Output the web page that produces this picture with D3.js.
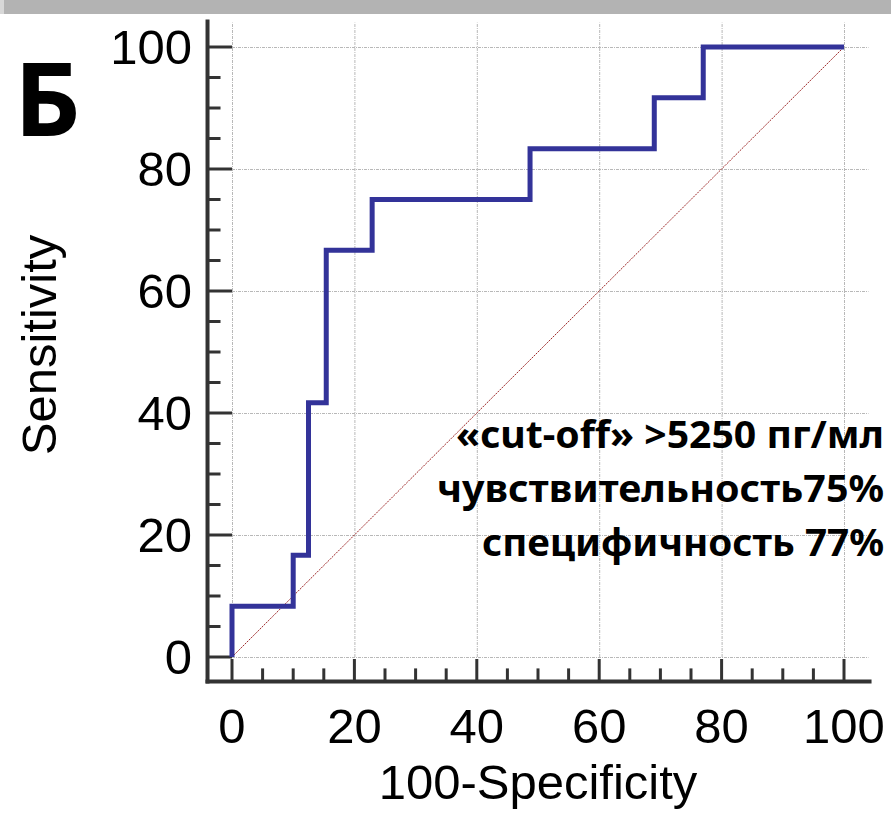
<!DOCTYPE html>
<html>
<head>
<meta charset="utf-8">
<script src="https://cdn.jsdelivr.net/npm/d3@7"></script>
<style>
  body { margin: 0; background: #fff; }
  text { font-family: "Liberation Sans", Arial, sans-serif; }
</style>
</head>
<body>
<svg id="roc" width="891" height="829"></svg>
<script>
// ROC step points (100-specificity, sensitivity)
var fpr  = [0, 10, 12.5, 15.4, 22.9, 48.7, 69, 77, 100]
var sens = [0, 8.33, 16.67, 41.67, 66.67, 75, 83.33, 91.67, 100]

var majorTicks = [0, 20, 40, 60, 80, 100]
var minorTicks = d3.range(0, 101, 5).filter(d => d % 20)

var notes = ['«cut-off» >5250 пг/мл', 'чувствительность75%', 'специфичность 77%']
var noteWidths = [428, 447, 402]
var panelLetter = 'Б'

var svg = d3.select('#roc')

var x = d3.scaleLinear().domain([0, 100]).range([232, 844])
var y = d3.scaleLinear().domain([0, 100]).range([657, 47])

// grey strip at the top
svg.append('rect').attr('x', 0).attr('y', 0).attr('width', 891).attr('height', 14).attr('fill', '#b3b3b3')
svg.append('rect').attr('x', 0).attr('y', 0).attr('width', 4).attr('height', 14).attr('fill', '#d8d8d8')

// grid
var grid = svg.append('g').attr('stroke', '#b8b8b8').attr('stroke-width', 1).attr('stroke-dasharray', '3,1,1,1')
grid.selectAll('line.h').data(majorTicks).join('line')
  .attr('x1', x(0)).attr('x2', x(104))
  .attr('y1', d => y(d) + 0.5).attr('y2', d => y(d) + 0.5)
grid.selectAll('line.v').data(majorTicks).join('line')
  .attr('y1', y(0)).attr('y2', y(104))
  .attr('x1', d => x(d) + 0.5).attr('x2', d => x(d) + 0.5)

// axes
var ax = svg.append('g').attr('stroke', '#333')
var axX = x(-4), axY = y(-4)
ax.append('line').attr('x1', axX).attr('x2', axX).attr('y1', y(104.5)).attr('y2', axY + 2).attr('stroke-width', 4)
ax.append('line').attr('x1', axX - 2).attr('x2', x(104.5)).attr('y1', axY).attr('y2', axY).attr('stroke-width', 4)

ax.selectAll('line.ymaj').data(majorTicks).join('line')
  .attr('x1', axX).attr('x2', x(0)).attr('y1', d => y(d)).attr('y2', d => y(d)).attr('stroke-width', 3)
ax.selectAll('line.ymin').data(minorTicks).join('line')
  .attr('x1', axX).attr('x2', axX + 13).attr('y1', d => y(d)).attr('y2', d => y(d)).attr('stroke-width', 3)
ax.selectAll('line.xmaj').data(majorTicks).join('line')
  .attr('y1', axY).attr('y2', y(0) + 2).attr('x1', d => x(d)).attr('x2', d => x(d)).attr('stroke-width', 3)
ax.selectAll('line.xmin').data(minorTicks).join('line')
  .attr('y1', axY).attr('y2', axY - 13).attr('x1', d => x(d)).attr('x2', d => x(d)).attr('stroke-width', 3)

// tick labels
svg.selectAll('text.ylab').data(majorTicks).join('text')
  .attr('x', 192).attr('y', d => y(d) + 17)
  .attr('text-anchor', 'end').attr('font-size', 49).text(d => d)
svg.selectAll('text.xlab').data(majorTicks).join('text')
  .attr('x', d => x(d)).attr('y', 743)
  .attr('text-anchor', 'middle').attr('font-size', 49).text(d => d)

// axis titles
svg.append('text').attr('x', 538).attr('y', 799).attr('text-anchor', 'middle')
  .attr('font-size', 49).text('100-Specificity')
svg.append('text').attr('transform', 'translate(56,345) rotate(-90)').attr('text-anchor', 'middle')
  .attr('font-size', 49).text('Sensitivity')

// diagonal reference
svg.append('line')
  .attr('x1', x(0)).attr('y1', y(0)).attr('x2', x(100)).attr('y2', y(100))
  .attr('stroke', '#9e2a2a').attr('stroke-width', 1).attr('stroke-dasharray', '2,1')

// ROC curve
var line = d3.line().x(d => x(d[0])).y(d => y(d[1])).curve(d3.curveStepBefore)
svg.append('path')
  .attr('d', line(d3.zip(fpr, sens)))
  .attr('fill', 'none').attr('stroke', '#333399').attr('stroke-width', 5)

// annotation
svg.selectAll('text.note').data(notes).join('text')
  .attr('x', 884).attr('y', (d, i) => 448 + i * 54)
  .attr('text-anchor', 'end')
  .attr('textLength', (d, i) => noteWidths[i]).attr('lengthAdjust', 'spacingAndGlyphs')
  .style('font-family', '"Noto Sans", "Open Sans", sans-serif')
  .attr('font-weight', 'bold').attr('font-size', 38).text(d => d)

svg.append('text').attr('x', 14).attr('y', 136)
  .style('font-family', '"Noto Sans", "Open Sans", sans-serif')
  .attr('font-weight', 'bold').attr('font-size', 103).text(panelLetter)
</script>
</body>
</html>
